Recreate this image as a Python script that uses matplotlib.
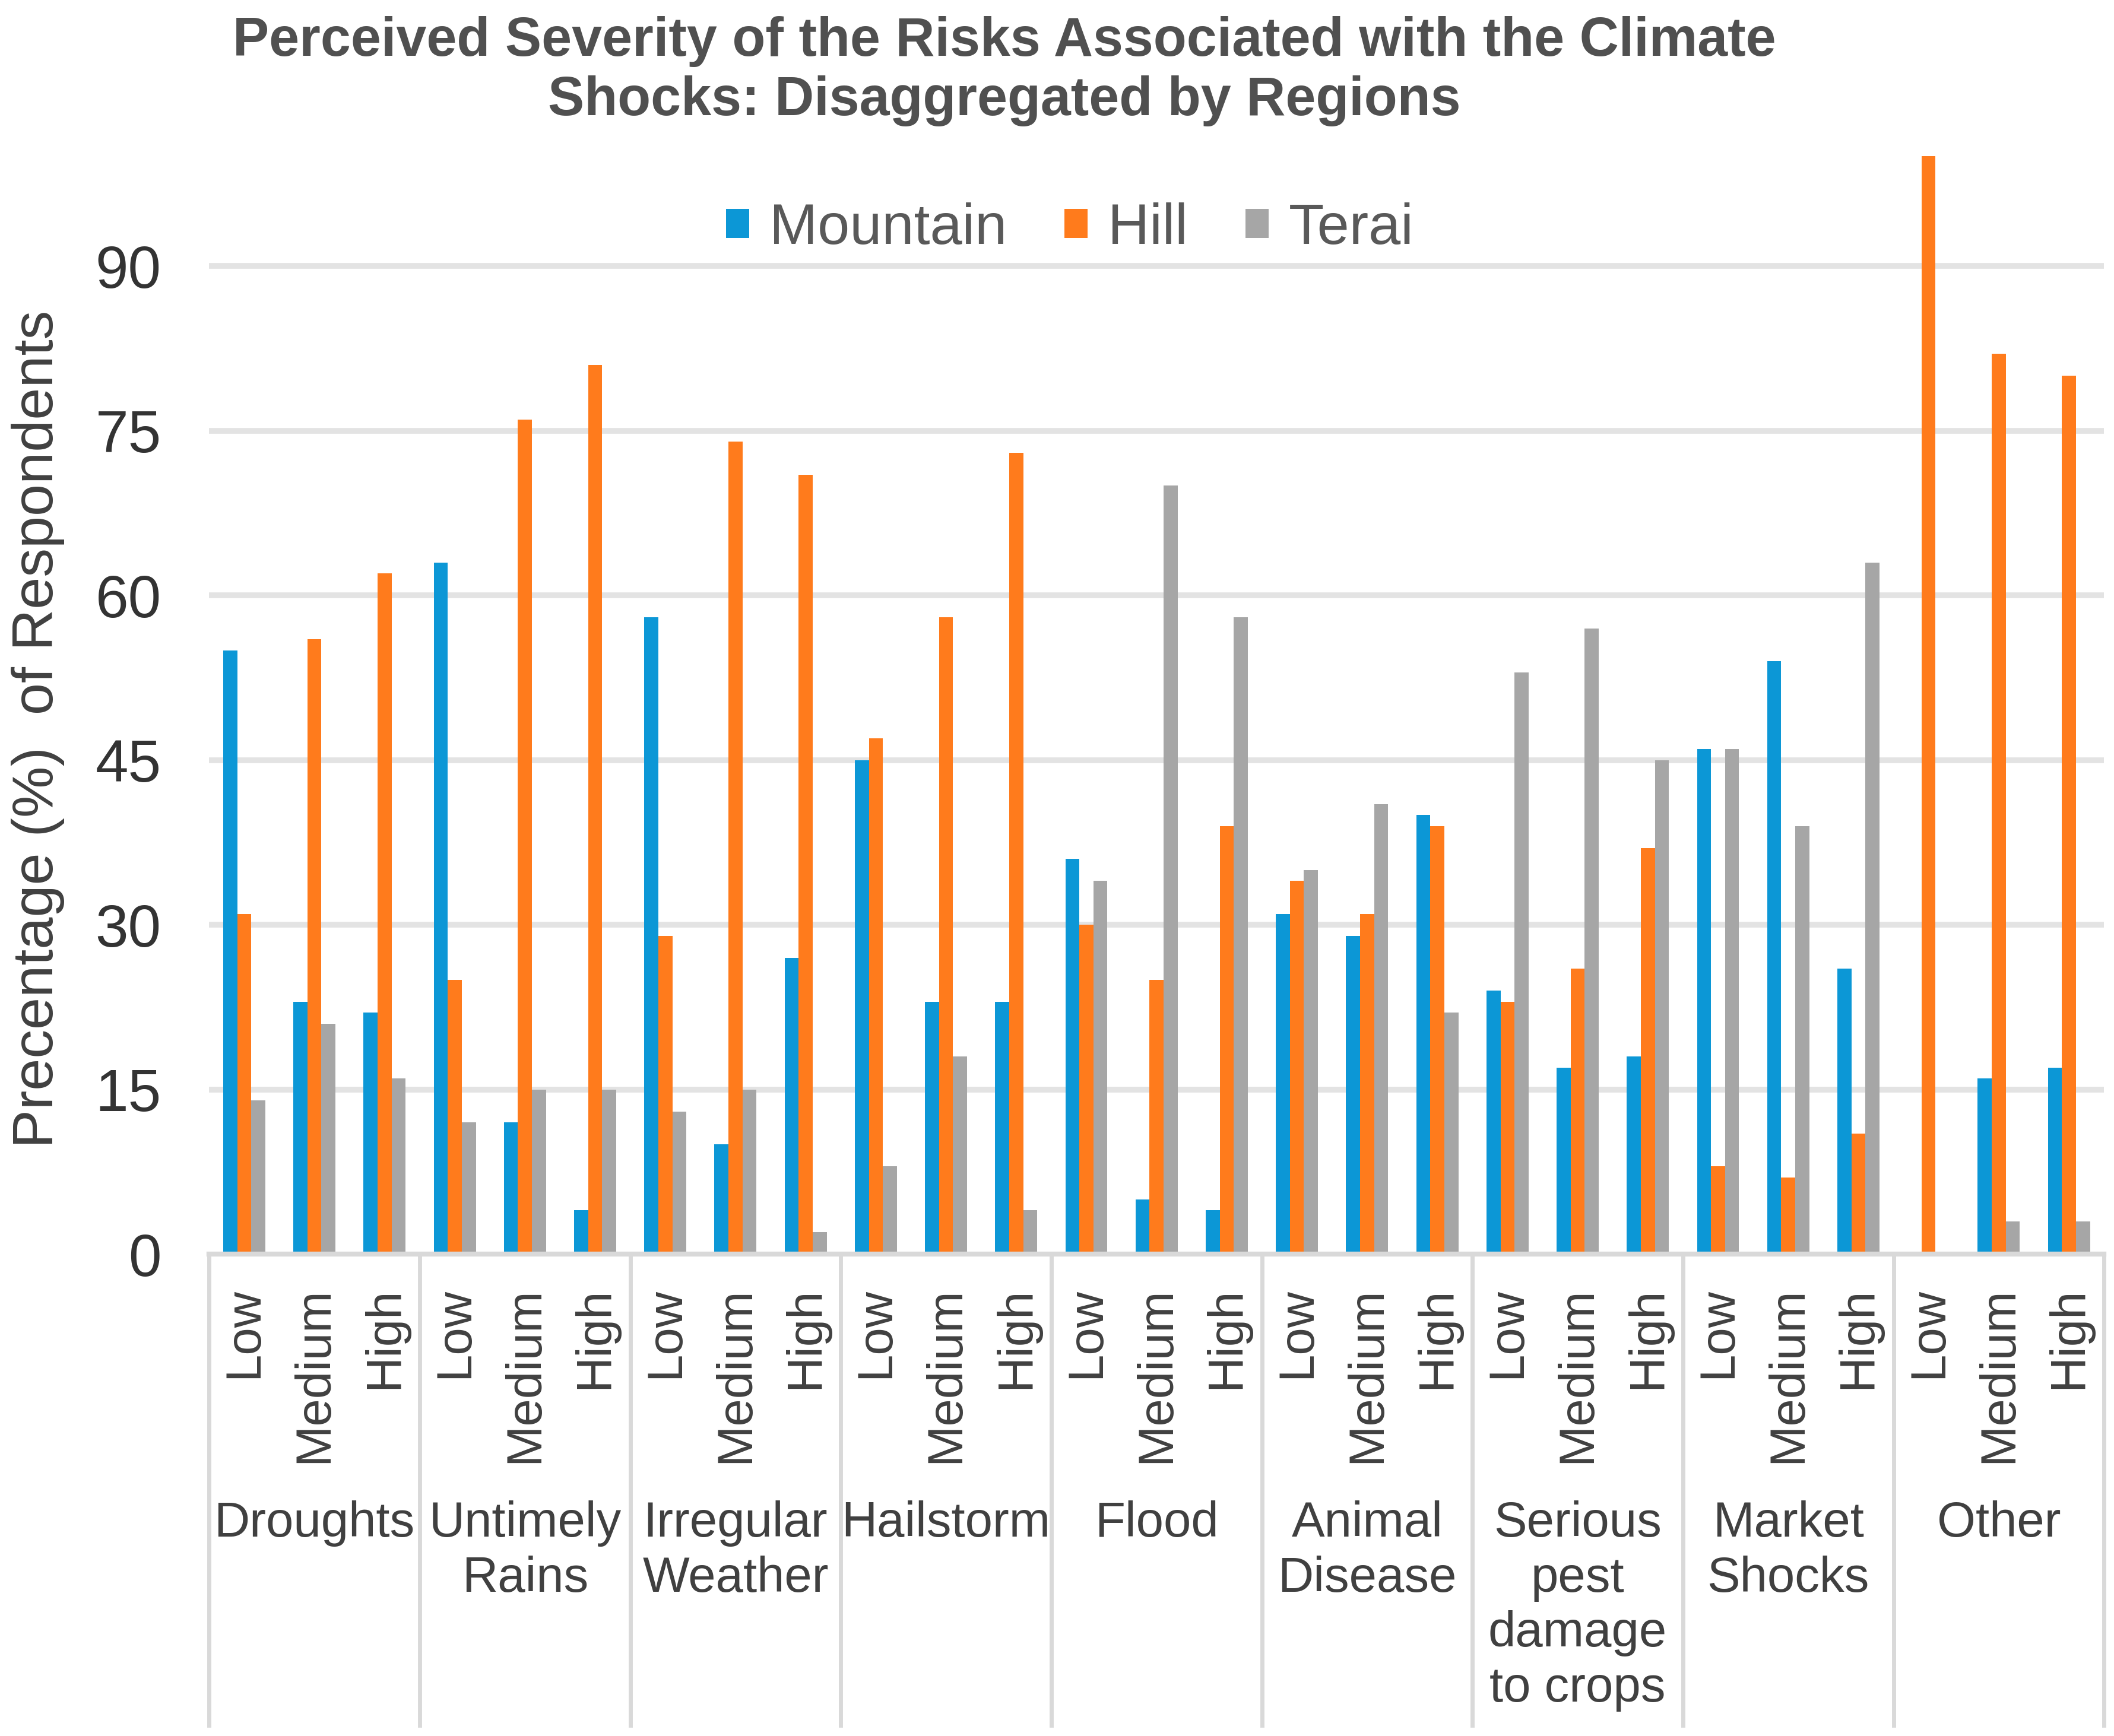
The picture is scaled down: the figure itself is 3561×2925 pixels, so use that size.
import numpy as np
import matplotlib
matplotlib.use("Agg")
import matplotlib.pyplot as plt
from matplotlib.transforms import blended_transform_factory
from matplotlib.lines import Line2D

plt.rcParams['font.family'] = ['Liberation Sans', 'DejaVu Sans']

# data
shocks = ["Droughts", "Untimely\nRains", "Irregular\nWeather", "Hailstorm", "Flood",
          "Animal\nDisease", "Serious\npest\ndamage\nto crops", "Market\nShocks", "Other"]
levels = ["Low", "Medium", "High"]
mountain = [55, 23, 22, 63, 12, 4, 58, 10, 27, 45, 23, 23, 36, 5, 4,
            31, 29, 40, 24, 17, 18, 46, 54, 26, 0, 16, 17]
hill = [31, 56, 62, 25, 76, 81, 29, 74, 71, 47, 58, 73, 30, 25, 39,
        34, 31, 39, 23, 26, 37, 8, 7, 11, 100, 82, 80]
terai = [14, 21, 16, 12, 15, 15, 13, 15, 2, 8, 18, 4, 34, 70, 58,
         35, 41, 22, 53, 57, 45, 46, 39, 63, 0, 3, 3]
y_ticks = [0, 15, 30, 45, 60, 75, 90]

c_mount = "#0C97D6"
c_hill = "#FF7B1C"
c_terai = "#A6A6A6"
txt = "#404040"

fig = plt.figure(figsize=(17.81, 14.625), dpi=200)
ax = fig.add_axes([0.0989, 0.2776, 0.995 - 0.0989, 0.910 - 0.2776])

x = np.arange(len(mountain))
w = 0.2
ax.bar(x - w, mountain, w, color=c_mount, label="Mountain", zorder=3)
ax.bar(x, hill, w, color=c_hill, label="Hill", zorder=3)
ax.bar(x + w, terai, w, color=c_terai, label="Terai", zorder=3)

ax.set_xlim(-0.5, len(x) - 0.5)
ax.set_ylim(0, 100)
ax.set_yticks(y_ticks)
ax.set_yticklabels([str(v) for v in y_ticks], fontsize=36, color="#333333")
ax.tick_params(axis="y", length=0, pad=29)
for v in y_ticks[1:]:
    ax.axhline(v, color="#E3E3E3", lw=3.5, zorder=1)

for s in ax.spines.values():
    s.set_visible(False)
ax.axhline(0, color="#D9D9D9", lw=3, zorder=4, clip_on=False)

ax.set_xticks(x)
ax.set_xticklabels(levels * len(shocks), rotation=90, fontsize=30, color=txt,
                   va="top", ha="center")
ax.tick_params(axis="x", length=0, pad=20)

# group labels and separators under the axis
tr = blended_transform_factory(ax.transData, fig.transFigure)
for i, name in enumerate(shocks):
    ax.text(3 * i + 1, 0.1357, name, transform=tr, ha="center", va="top",
            fontsize=30, color=txt, linespacing=1.24)
for b in np.arange(-0.5, len(x), 3):
    fig.add_artist(Line2D([b, b], [0.2776, 0.006], transform=tr,
                          color="#D9D9D9", lw=2.5))

fig.text(0.018, 0.58, "Precentage (%)  of Respondents", rotation=90,
         ha="center", va="center", fontsize=35, color=txt)

fig.text(0.475, 0.959, "Perceived Severity of the Risks Associated with the Climate\n"
         "Shocks: Disaggregated by Regions", ha="center", va="center",
         fontsize=33, fontweight="bold", color="#505050", linespacing=1.2)

fig.legend(loc="center", bbox_to_anchor=(0.506, 0.868), ncol=3, frameon=False,
           fontsize=35, labelcolor="#595959", handlelength=0.4, handleheight=0.4,
           handletextpad=0.35, columnspacing=1.0)

fig.savefig("out.png", dpi=200, facecolor="white")
